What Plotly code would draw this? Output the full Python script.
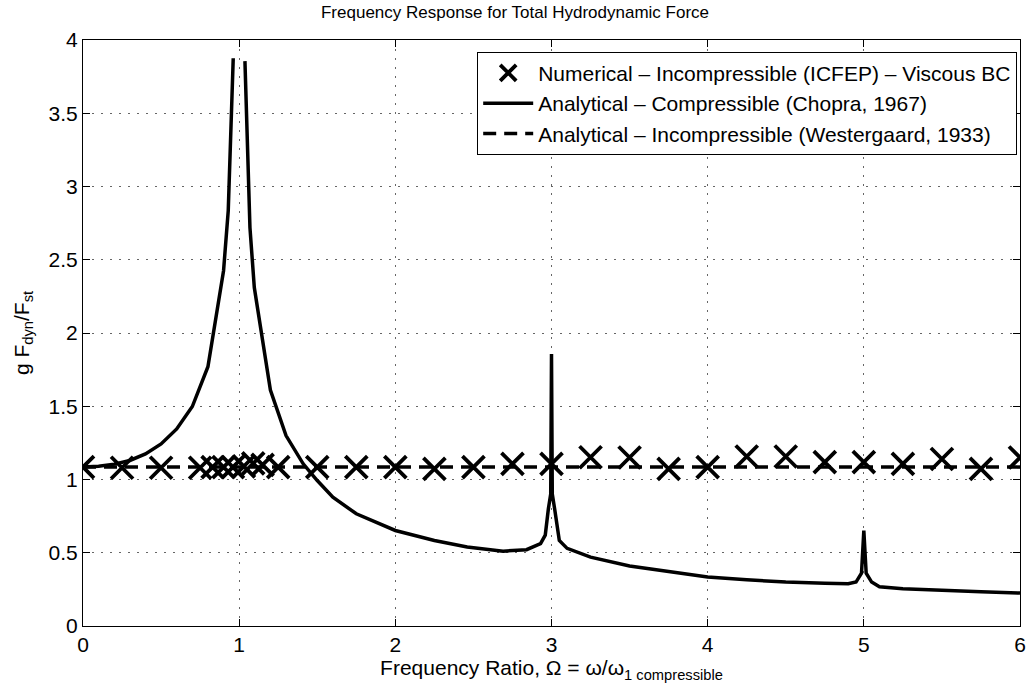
import plotly.graph_objects as go

# ---- data ----
numerical_x = [0, 0.25, 0.5, 0.75, 0.83, 0.9, 0.96, 1.03, 1.09, 1.15, 1.25, 1.5, 1.75, 2.0,
               2.25, 2.5, 2.75, 3.0, 3.25, 3.5, 3.75, 4.0, 4.25, 4.5, 4.75, 5.0, 5.25, 5.5,
               5.75, 6.0]
numerical_y = [1.085, 1.08, 1.08, 1.08, 1.085, 1.085, 1.085, 1.09, 1.11, 1.1, 1.085, 1.085,
               1.085, 1.085, 1.073, 1.085, 1.107, 1.107, 1.152, 1.15, 1.073, 1.084, 1.157,
               1.157, 1.118, 1.118, 1.107, 1.14, 1.073, 1.15]

chopra_x = [0, 0.1, 0.2, 0.3, 0.4, 0.5, 0.6, 0.7, 0.8, 0.9, 0.93, 0.962, None,
            1.037, 1.069, 1.097, 1.2, 1.3, 1.41, 1.5, 1.6, 1.75, 2.0, 2.25, 2.46, 2.69,
            2.84, 2.93, 2.96, 2.98, 2.995, 3.0, 3.005, 3.02, 3.05, 3.1, 3.25, 3.5, 3.75,
            4.0, 4.25, 4.5, 4.75, 4.9, 4.95, 4.985, 5.0, 5.015, 5.05, 5.1, 5.25, 5.5,
            5.75, 6.0]
chopra_y = [1.085, 1.09, 1.105, 1.13, 1.175, 1.243, 1.345, 1.498, 1.77, 2.425, 2.834, 3.875,
            None, 3.856, 2.72, 2.31, 1.61, 1.30, 1.107, 0.993, 0.879, 0.766, 0.652, 0.584,
            0.539, 0.511, 0.521, 0.562, 0.62, 0.80, 0.9, 1.857, 0.9, 0.80, 0.584, 0.53,
            0.47, 0.41, 0.37, 0.335, 0.315, 0.30, 0.292, 0.288, 0.30, 0.36, 0.652, 0.36,
            0.30, 0.268, 0.255, 0.243, 0.233, 0.225]

westergaard_x = [0, 6]
westergaard_y = [1.085, 1.085]

x_ticks = [0, 1, 2, 3, 4, 5, 6]
y_ticks = [0, 0.5, 1, 1.5, 2, 2.5, 3, 3.5, 4]
y_ticklabels = ["0", "0.5", "1", "1.5", "2", "2.5", "3", "3.5", "4"]

FONT = "Liberation Sans, Arial, Helvetica, sans-serif"
FS = 21

fig = go.Figure()
fig.add_trace(go.Scatter(
    x=numerical_x, y=numerical_y, mode="markers",
    name="Numerical \u2013 Incompressible (ICFEP) \u2013 Viscous BC",
    marker=dict(symbol="x-thin", size=22, color="black",
                line=dict(color="black", width=3.8)),
))
fig.add_trace(go.Scatter(
    x=chopra_x, y=chopra_y, mode="lines",
    name="Analytical \u2013 Compressible (Chopra, 1967)",
    line=dict(color="black", width=3.5),
    connectgaps=False,
))
fig.add_trace(go.Scatter(
    x=westergaard_x, y=westergaard_y, mode="lines",
    name="Analytical \u2013 Incompressible (Westergaard, 1933)",
    line=dict(color="black", width=3.5, dash="13px,8px"),
))

axis_common = dict(
    showline=True, linecolor="black", linewidth=1, mirror="ticks",
    ticks="inside", ticklen=7, tickcolor="black", tickwidth=1,
    showgrid=True, gridcolor="#666", gridwidth=1, griddash="2px,7px",
    zeroline=False, automargin=False,
    tickfont=dict(family=FONT, size=FS, color="black"),
)

fig.update_xaxes(
    range=[0, 6], tickvals=x_ticks, ticktext=[str(v) for v in x_ticks],
    title=dict(text="Frequency Ratio, \u03a9 = \u03c9/\u03c9<sub>1 compressible</sub>",
               font=dict(family=FONT, size=FS, color="black"), standoff=2),
    **axis_common,
)
fig.update_yaxes(
    range=[0, 4], tickvals=y_ticks, ticktext=y_ticklabels,
    title=dict(text="g F<sub>dyn</sub>/F<sub>st</sub>",
               font=dict(family=FONT, size=FS, color="black"), standoff=13),
    **axis_common,
)

fig.update_layout(
    width=1030, height=691,
    margin=dict(l=83, r=10, t=40, b=65),
    plot_bgcolor="white", paper_bgcolor="white",
    title=dict(text="Frequency Response for Total Hydrodynamic Force",
               x=0.5, xanchor="center", y=1 - 12 / 691, yanchor="middle",
               font=dict(family=FONT, size=17, color="black")),
    legend=dict(
        x=0.997, y=0.98, xanchor="right", yanchor="top",
        bgcolor="white", bordercolor="black", borderwidth=1,
        font=dict(family=FONT, size=FS, color="black"),
        tracegroupgap=0, itemwidth=50, traceorder="normal",
    ),
    showlegend=True,
)

fig.write_html("out.html", config={"displayModeBar": False},
               post_script="document.body.style.margin='0';")
